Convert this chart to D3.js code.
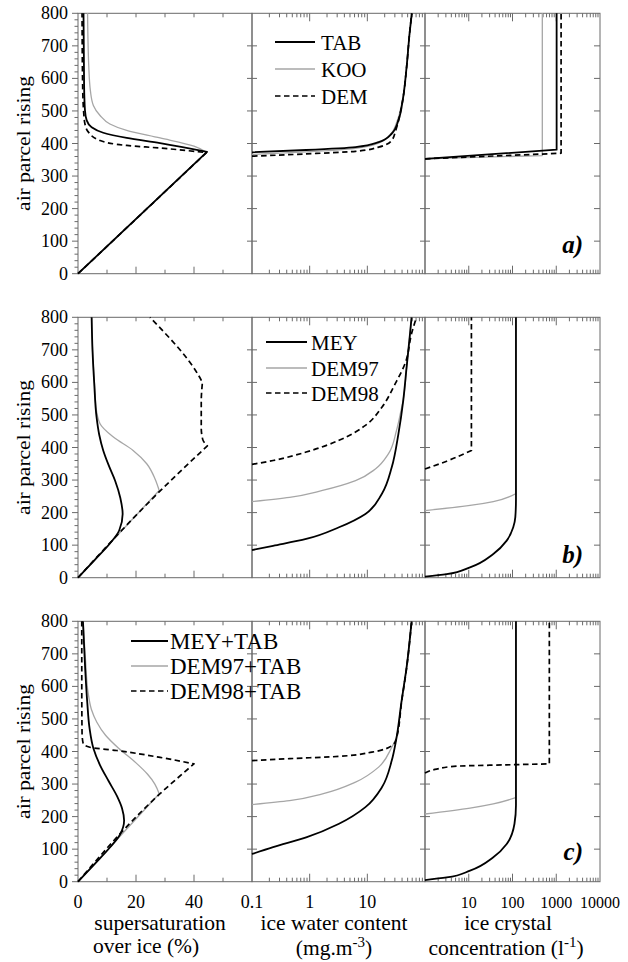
<!DOCTYPE html>
<html><head><meta charset="utf-8">
<script src="https://cdn.jsdelivr.net/npm/d3@7"></script>
</head><body style="margin:0"><svg id="c" width="628" height="962"></svg>
<script>
// ---------- data ----------
const heightTicks = [0,100,200,300,400,500,600,700,800];
const ssTickLabels = [0,20,40];
const iwcTickLabels = [0.1,1,10];
const iccTickLabels = [10,100,1000,10000];
const panelLetters = ["a)","b)","c)"];
const namesA = ["TAB","KOO","DEM"];
const namesB = ["MEY","DEM97","DEM98"];
const namesC = ["MEY+TAB","DEM97+TAB","DEM98+TAB"];

// each series: list of segments of [value, height]
// row a
const ss_a_TAB = [[[0,0],[44.5,374]],[[44.5,374],[28.3,401],[16.8,417],[8.7,433],[4.7,450],[3.0,471],[2.4,502],[2.1,580],[1.9,800]]];
const ss_a_KOO = [[[0,0],[44.3,373]],[[44.3,373],[40,392],[28.3,417],[16.8,440],[11,460],[7.6,486],[5.3,517],[4.3,560],[3.7,640],[3.3,800]]];
const ss_a_DEM = [[[0,0],[44.3,372]],[[44.3,372],[28.3,386],[16.8,394],[7.6,409],[3.6,435],[2.4,460],[2.0,491],[1.6,580],[1.4,800]]];
const iwc_a_TAB = [[[0.1,373],[0.87,380],[6.25,389],[15.7,404],[26.4,430],[34.6,471],[41,532],[48,635],[54,738],[59,800]]];
const iwc_a_KOO = [[[0.1,366],[0.87,374],[6.25,385],[15.7,401],[25,428],[33,470],[40.5,532],[48,635],[54,738],[59,800]]];
const iwc_a_DEM = [[[0.1,361],[0.87,368],[6.25,376],[15.7,389],[26.4,409],[31,440],[37,492],[41,532],[48,635],[54,738],[59,800]]];
const icc_a_TAB = [[[1,353],[1020,381]],[[1020,381],[1020,800]]];
const icc_a_KOO = [[[1,353],[480,363]],[[480,363],[480,800]]];
const icc_a_DEM = [[[1,353],[1290,370]],[[1290,370],[1290,800]]];
// row b
const ss_b_MEY = [[[0,0],[5.8,55],[11.0,105],[14.2,145],[15.4,196],[14.6,245],[12.8,298],[10.6,345],[8.7,391],[7.3,440],[6.4,493],[5.6,597],[5.0,700],[4.7,800]]];
const ss_b_DEM97 = [[[0,0],[28,268]],[[28,268],[26.5,305],[23.7,350],[19,391],[12.2,432],[7.6,473],[6.2,524],[5.9,565],[5.5,620],[5.0,700],[4.7,800]]];
const ss_b_DEM98 = [[[0,0],[28.5,268],[44.6,405]],[[44.6,405],[43.0,425],[42.5,460],[42.5,540],[42.9,600]],[[42.9,600],[41.8,618],[24.8,800]]];
const iwc_b_MEY = [[[0.1,85],[0.232,98],[0.87,119],[3.23,155],[9.27,196],[17.9,258],[26.5,339],[34.6,442],[42,545],[48,647],[55,750],[58.5,800]]];
const iwc_b_DEM97 = [[[0.1,234],[0.449,247],[1.67,268],[6.25,298],[13.8,334],[23.3,381],[32,452],[38,510],[42,548],[48,647],[55,750],[58.5,800]]];
const iwc_b_DEM98 = [[[0.1,348],[0.232,360],[0.87,386],[3.23,422],[9.27,468],[17.9,524],[30.5,596],[46,662],[58.5,750],[71,800]]];
const icc_b_MEY = [[[1,3],[3.13,11],[10.7,32],[36.4,73],[73.7,114],[104,155],[116,186],[120,240],[120,800]]];
const icc_b_DEM97 = [[[1,206],[10.7,222],[36.4,234],[118,258]],[[118,258],[118,800]]];
const icc_b_DEM98 = [[[1,334],[3.13,358],[11.5,391]],[[11.5,391],[11.5,800]]];
// row c
const ss_c_MEYTAB = [[[0,0],[5.8,55],[11.0,105],[14.5,145],[15.9,188],[15.2,225],[13.5,262],[10.5,310],[7.5,360],[5.3,410],[4.0,470],[3.2,550],[2.5,650],[1.7,800]]];
const ss_c_DEM97TAB = [[[0,0],[28,270]],[[28,270],[26.5,300],[24,330],[20,365],[14,410],[9.5,450],[6.5,490],[4.6,530],[3.5,580],[2.6,680],[1.8,800]]];
const ss_c_DEM98TAB = [[[0,0],[28,268],[40,362]],[[40,362],[28.3,382],[13.3,403],[4.1,413],[1.8,424],[1.4,455],[1.3,600],[1.3,800]]];
const iwc_c_MEYTAB = [[[0.1,85],[0.232,106],[0.87,136],[3.23,178],[9.27,229],[17.9,290],[26.5,372],[31.5,434],[39.4,557],[48,659],[58.5,800]]];
const iwc_c_DEM97TAB = [[[0.1,237],[0.449,249],[1.67,270],[6.25,306],[15.7,352],[26.5,413],[31.5,440],[39.4,557],[48,659],[58.5,800]]];
const iwc_c_DEM98TAB = [[[0.1,372],[0.449,378],[3.23,385],[12,398],[26.5,418],[31.5,436],[39.6,557],[48.2,659],[58.7,800]]];
const icc_c_MEYTAB = [[[1,5],[3.13,13],[10.7,34],[36.4,75],[73.7,116],[111,178],[120,235],[120,800]]];
const icc_c_DEM97TAB = [[[1,208],[10.7,226],[36.4,239],[118,258]],[[118,258],[118,800]]];
const icc_c_DEM98TAB = [[[1,334],[1.85,346],[5.3,355],[73.7,359],[695,362]],[[695,362],[695,800]]];

// ---------- layout ----------
const fontNames = ["Liberation Serif"];
const svg = d3.select("#c");
const colX = [[78,252],[252,425],[425,600]];
const rowTop = [13.3,317.3,621.3], rowH = 260.4;
const axisColor = "#6a6a6a";
const xScales = [
  d3.scaleLinear().domain([0,60]).range(colX[0]),
  d3.scaleLog().domain([0.1,100]).range(colX[1]),
  d3.scaleLog().domain([1,10000]).range(colX[2])
];
const yScales = rowTop.map(t => d3.scaleLinear().domain([0,800]).range([t+rowH, t]));

const panels = [
  [[ss_a_TAB,ss_a_KOO,ss_a_DEM],[iwc_a_TAB,iwc_a_KOO,iwc_a_DEM],[icc_a_TAB,icc_a_KOO,icc_a_DEM]],
  [[ss_b_MEY,ss_b_DEM97,ss_b_DEM98],[iwc_b_MEY,iwc_b_DEM97,iwc_b_DEM98],[icc_b_MEY,icc_b_DEM97,icc_b_DEM98]],
  [[ss_c_MEYTAB,ss_c_DEM97TAB,ss_c_DEM98TAB],[iwc_c_MEYTAB,iwc_c_DEM97TAB,iwc_c_DEM98TAB],[icc_c_MEYTAB,icc_c_DEM97TAB,icc_c_DEM98TAB]]
];
const styles = [
  {stroke:"#000", w:1.8, dash:null},
  {stroke:"#a6a6a6", w:1.3, dash:null},
  {stroke:"#000", w:1.7, dash:"5.5,3.5"}
];
const drawOrder = [1,2,0];

function pathFor(segs, xs, ys){
  const line = d3.line().x(d=>xs(d[0])).y(d=>ys(d[1])).curve(d3.curveMonotoneY);
  return segs.map((s,i)=>{const p=line(s); return i===0?p:p.replace(/^M/,"L");}).join("");
}
// text helper: same order of calls as the font test page
function label(x, y, size, str){
  return svg.append("text").attr("x",x).attr("y",y).attr("font-size",size)
    .style("font-family",`"${fontNames[0]}"`).text(str);
}

const gAx = svg.append("g").attr("stroke",axisColor).attr("stroke-width",1).attr("fill","none");
function tick(x1,y1,x2,y2){ gAx.append("line").attr("x1",x1).attr("y1",y1).attr("x2",x2).attr("y2",y2); }

for(let r=0;r<3;r++){
  const ys = yScales[r];
  const top = ys(800), bot = ys(0);
  for(let c=0;c<3;c++){
    const xs = xScales[c];
    const [x0,x1] = colX[c];
    const g = svg.append("g").attr("fill","none");
    drawOrder.forEach(k=>{
      const st = styles[k];
      g.append("path").attr("d", pathFor(panels[r][c][k], xs, ys))
        .attr("stroke",st.stroke).attr("stroke-width",st.w)
        .attr("stroke-dasharray",st.dash).attr("stroke-linejoin","round");
    });
    gAx.append("rect").attr("x",x0).attr("y",top).attr("width",x1-x0).attr("height",bot-top);
    if(c===0){
      ys.ticks(40).forEach(v=>{
        const major = v%100===0;
        tick(x0 - (major?6:3.5), ys(v), x0, ys(v));
      });
    } else {
      heightTicks.forEach(v=>{ if(v>0&&v<800) tick(x0-5, ys(v), x0+5, ys(v)); });
      if(c===2) heightTicks.forEach(v=>{ if(v>0&&v<800) tick(x1-6, ys(v), x1, ys(v)); });
    }
    if(c===0){
      xs.ticks(6).forEach(v=>{
        if(v<=0||v>=60) return;
        const len = v%20===0?7:4;
        tick(xs(v), bot, xs(v), bot-len);
        tick(xs(v), top, xs(v), top+4);
      });
    } else {
      xs.ticks().forEach(v=>{
        const px = xs(v);
        if(px<=x0+0.5||px>=x1-0.5) return;
        const dec = Math.abs(Math.log10(v)-Math.round(Math.log10(v)))<1e-6;
        const len = dec?8:4;
        tick(px, bot, px, bot-len);
        tick(px, top, px, top+len);
      });
    }
  }
  heightTicks.forEach(v=>{
    label(68, ys(v)+6, 18, v).attr("text-anchor","end");
  });
  label(0, 0, 21.5, "air parcel rising")
    .attr("transform",`translate(30,${(top+bot)/2}) rotate(-90) scale(1,0.85)`)
    .attr("text-anchor","middle");
}

const letterBase = [253,563,860];
panelLetters.forEach((t,i)=>{
  label(583, letterBase[i], 25, t).attr("text-anchor","end")
    .attr("font-weight","bold").attr("font-style","italic");
});

const legends = [
  {names:namesA, x1:275, x2:315, tx:321, ys:[42,69,96], fs:21},
  {names:namesB, x1:266, x2:307, tx:311, ys:[342,368,393], fs:21},
  {names:namesC, x1:131, x2:168, tx:170, ys:[641,666,691], fs:23}
];
legends.forEach(L=>{
  L.names.forEach((n,k)=>{
    const st = styles[k];
    svg.append("line").attr("x1",L.x1).attr("x2",L.x2).attr("y1",L.ys[k]).attr("y2",L.ys[k])
      .attr("stroke",st.stroke).attr("stroke-width",st.w).attr("stroke-dasharray",st.dash);
    label(L.tx, L.ys[k]+7.5, L.fs, n);
  });
});

const labBase = 908;
ssTickLabels.forEach(v=>label(xScales[0](v), labBase, 18, v).attr("text-anchor","middle"));
iwcTickLabels.forEach(v=>label(xScales[1](v), labBase, 18, v).attr("text-anchor","middle"));
iccTickLabels.forEach(v=>label(xScales[2](v), labBase, 16, v).attr("text-anchor","middle"));

function title(x,y,parts){
  const t = label(x, y, 21.5, null).attr("text-anchor","middle");
  parts.forEach(p=>{
    const ts = t.append("tspan").text(p.t);
    if(p.sup){ ts.attr("font-size",15).attr("dy",-8); }
    if(p.down){ ts.attr("dy",8); }
  });
}
title(160,930,[{t:"supersaturation"}]);
title(146,953,[{t:"over ice (%)"}]);
title(334,930,[{t:"ice water content"}]);
title(334,955,[{t:"(mg.m"},{t:"-3",sup:true},{t:")",down:true}]);
title(508,930,[{t:"ice crystal"}]);
title(506,955,[{t:"concentration (l"},{t:"-1",sup:true},{t:")",down:true}]);
</script></body></html>
